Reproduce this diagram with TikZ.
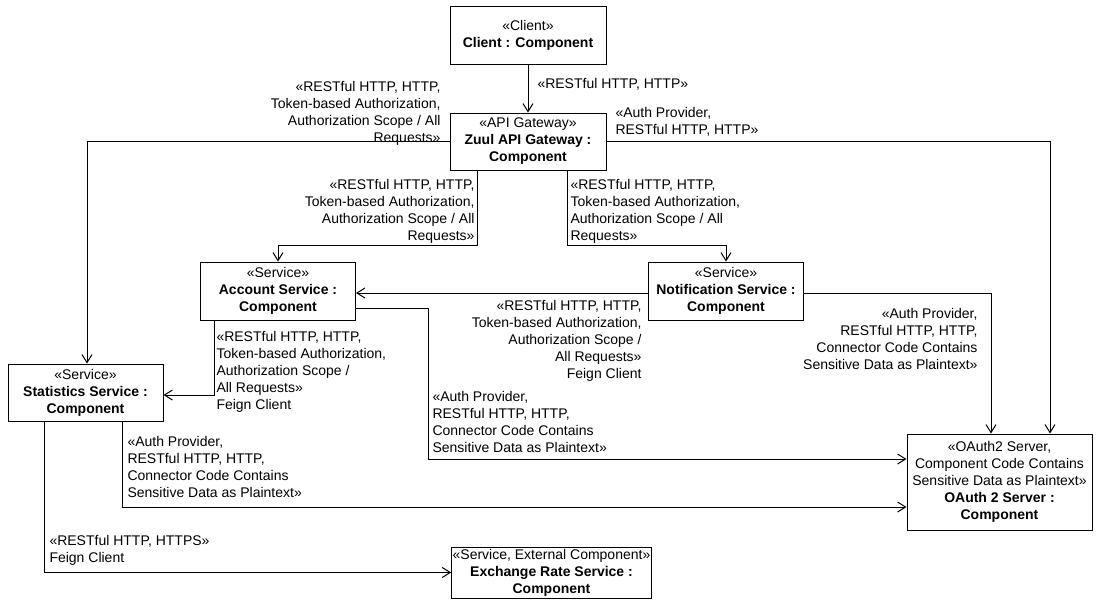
\documentclass[tikz,border=0pt]{standalone}
\usepackage{fontspec}
\setmainfont{Liberation Sans}
\usetikzlibrary{arrows.meta}
\begin{document}
\begin{tikzpicture}
[x = 1pt, y = -1pt, line width = 1pt,
 every node/.style = {font = \fontsize{14}{17}\selectfont},
 comp/.style = {shape = rectangle, draw, align = center, inner sep = 2pt, minimum width = 155pt, minimum height = 58pt},
 lbl/.style = {inner sep = 0pt},
 conn/.style = {-{Straight Barb[length = 8pt, width = 10pt]}}]
\useasboundingbox (0,0) rectangle (1100,603);
\node[comp, minimum width = 156pt] (client) at (528,35) {«Client»\\\textbf{Client : Component}};
\node[comp, minimum width = 156pt, minimum height = 57pt] (gateway) at (528,141.5) {«API Gateway»\\\textbf{Zuul API Gateway :}\\\textbf{Component}};
\node[comp] (account) at (278,291) {«Service»\\\textbf{Account Service :}\\\textbf{Component}};
\node[comp] (notification) at (726,291) {«Service»\\\textbf{Notification Service :}\\\textbf{Component}};
\node[comp, minimum height = 57pt] (statistics) at (85.5,392.5) {«Service»\\\textbf{Statistics Service :}\\\textbf{Component}};
\node[comp, minimum width = 185pt, minimum height = 96pt] (oauth) at (999.5,482) {«OAuth2 Server,\\Component Code Contains\\Sensitive Data as Plaintext»\\\textbf{OAuth 2 Server :}\\\textbf{Component}};
\node[comp, minimum width = 159pt, minimum height = 51pt, inner sep = 1pt] (exchange) at (551.5,572.5) {«Service, External Component»\\\textbf{Exchange Rate Service :}\\\textbf{Component}};

\draw[conn] (client) -- (gateway);
\draw[conn] (gateway.west) -| ([xshift = 1.5pt]statistics.north);
\draw[conn] (gateway.east) -| ([xshift = 50.5pt]oauth.north);
\draw[conn] ([xshift = -51pt]gateway.south) -- ++(0,75) -| (account.north);
\draw[conn] ([xshift = 39pt]gateway.south) -- ++(0,75) -| (notification.north);
\draw[conn] ([yshift = -2pt]notification.west) -- ([yshift = -2pt]account.east);
\draw[conn] ([yshift = -2pt]notification.east) -| ([xshift = -8.5pt]oauth.north);
\draw[conn] ([xshift = -64pt]account.south) |- ([yshift = -2.5pt]statistics.east);
\draw[conn] ([yshift = -17pt]account.east) -- ++(72,0) |- ([yshift = 23pt]oauth.west);
\draw[conn] ([xshift = 36.5pt]statistics.south) |- ([yshift = -25pt]oauth.west);
\draw[conn] ([xshift = -41.5pt]statistics.south) |- (exchange.west);

\node[lbl, anchor = west] (l-client) at (537,84) {«RESTful HTTP, HTTP»};
\node[lbl, anchor = east, align = right] (l-statistics) at (441,113.5) {«RESTful HTTP, HTTP,\\Token-based Authorization,\\Authorization Scope / All\\Requests»};
\node[lbl, anchor = west, align = left] (l-oauth) at (615,121.5) {«Auth Provider,\\RESTful HTTP, HTTP»};
\node[lbl, anchor = east, align = right] (l-account) at (475,211) {«RESTful HTTP, HTTP,\\Token-based Authorization,\\Authorization Scope / All\\Requests»};
\node[lbl, anchor = west, align = left] (l-notification) at (570,211) {«RESTful HTTP, HTTP,\\Token-based Authorization,\\Authorization Scope / All\\Requests»};
\node[lbl, anchor = east, align = right] (l-feign-a) at (642,341) {«RESTful HTTP, HTTP,\\Token-based Authorization,\\Authorization Scope /\\All Requests»\\Feign Client};
\node[lbl, anchor = east, align = right] (l-auth-n) at (978,338.5) {«Auth Provider,\\RESTful HTTP, HTTP,\\Connector Code Contains\\Sensitive Data as Plaintext»};
\node[lbl, anchor = west, align = left] (l-feign-s) at (216,372) {«RESTful HTTP, HTTP,\\Token-based Authorization,\\Authorization Scope /\\All Requests»\\Feign Client};
\node[lbl, anchor = west, align = left] (l-auth-a) at (432,421.5) {«Auth Provider,\\RESTful HTTP, HTTP,\\Connector Code Contains\\Sensitive Data as Plaintext»};
\node[lbl, anchor = west, align = left] (l-auth-s) at (127,466.5) {«Auth Provider,\\RESTful HTTP, HTTP,\\Connector Code Contains\\Sensitive Data as Plaintext»};
\node[lbl, anchor = west, align = left] (l-exchange) at (49,550.5) {«RESTful HTTP, HTTPS»\\Feign Client};
\end{tikzpicture}
\end{document}
